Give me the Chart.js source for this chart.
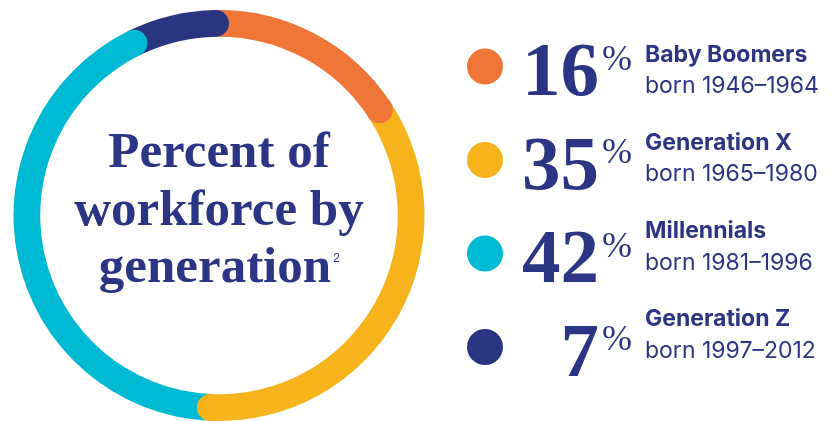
<!DOCTYPE html>
<html>
<head>
<meta charset="utf-8">
<script src="https://cdn.jsdelivr.net/npm/chart.js@4"></script>
<style>
  html, body { margin: 0; padding: 0; background: #fff; overflow: hidden; }
  #wrap { position: relative; width: 840px; height: 421px; }
</style>
</head>
<body>
<div id="wrap"><canvas id="chart"></canvas></div>
<script>
const generations = ['Baby Boomers', 'Generation X', 'Millennials', 'Generation Z'];
const birthYears = ['born 1946–1964', 'born 1965–1980', 'born 1981–1996', 'born 1997–2012'];
const shares = [16, 35, 42, 7];
const colors = ['#F07638', '#F6B31C', '#00B9D3', '#2A3582'];
const titleLines = ['Percent of', 'workforce by', 'generation'];

const navy = '#2B3583';

// round end caps, each one pushed into the next slice
const capsPlugin = {
    id: 'caps',
    afterDatasetsDraw(chart) {
        const ctx = chart.ctx;
        chart.getDatasetMeta(0).data.forEach(function(arc) {
            const p = arc.getProps(['x', 'y', 'endAngle', 'innerRadius', 'outerRadius'], true);
            const r = (p.innerRadius + p.outerRadius) / 2;
            const w = (p.outerRadius - p.innerRadius) / 2;
            ctx.save();
            ctx.fillStyle = arc.options.backgroundColor;
            ctx.beginPath();
            ctx.arc(p.x + r * Math.cos(p.endAngle), p.y + r * Math.sin(p.endAngle), w, 0, Math.PI * 2);
            ctx.fill();
            ctx.restore();
        });
    }
};

// center title + legend on the right
const textPlugin = {
    id: 'texts',
    afterDraw(chart) {
        const ctx = chart.ctx;
        const arc = chart.getDatasetMeta(0).data[0];
        const cx = arc.x;
        ctx.save();
        ctx.fillStyle = navy;
        ctx.textBaseline = 'alphabetic';

        ctx.font = 'bold 51px "Liberation Serif"';
        ctx.textAlign = 'center';
        ctx.fillText(titleLines[0], cx, 167);
        ctx.fillText(titleLines[1], cx, 225);
        const w = ctx.measureText(titleLines[2]).width;
        ctx.textAlign = 'left';
        const x0 = cx - (w + 8) / 2;
        ctx.fillText(titleLines[2], x0, 282);
        ctx.font = '12px "Liberation Sans"';
        ctx.fillText('2', x0 + w + 2, 262);

        const data = chart.data.datasets[0].data;
        data.forEach(function(v, i) {
            ctx.fillStyle = colors[i];
            ctx.beginPath();
            ctx.arc(485, 66.5 + 93.5 * i, 18, 0, Math.PI * 2);
            ctx.fill();

            ctx.fillStyle = navy;
            ctx.textAlign = 'right';
            ctx.font = 'bold 77px "Liberation Serif"';
            ctx.fillText(String(v), 599, 95 + 93.7 * i);
            ctx.textAlign = 'left';
            ctx.font = '36px "Liberation Serif"';
            ctx.fillText('%', 602, 70 + 93.3 * i);

            ctx.font = 'bold 23px Inter';
            ctx.fillText(chart.data.labels[i], 645, 62 + 88 * i);
            ctx.font = '23px Inter';
            ctx.fillText(birthYears[i], 645, 93 + 88.3 * i);
        });
        ctx.restore();
    }
};

new Chart(document.getElementById('chart').getContext('2d'), {
    type: 'doughnut',
    data: {
        labels: generations,
        datasets: [{
            data: shares,
            backgroundColor: colors,
            borderWidth: 0
        }]
    },
    options: {
        responsive: true,
        maintainAspectRatio: false,
        animation: false,
        rotation: -1,
        cutout: '87%',
        layout: {
            padding: { left: 13, right: 415, top: 10, bottom: 0 }
        },
        plugins: {
            legend: { display: false },
            tooltip: { enabled: false }
        }
    },
    plugins: [capsPlugin, textPlugin]
});
</script>
</body>
</html>
